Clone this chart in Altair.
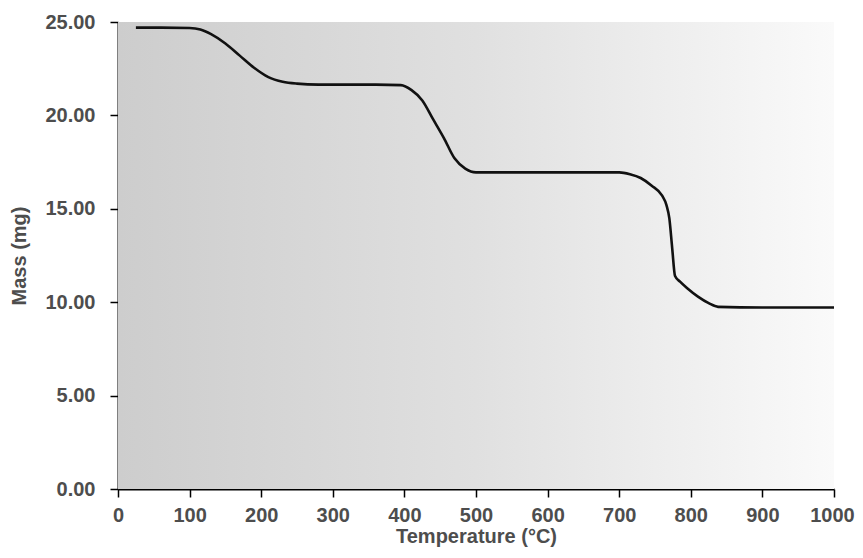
import altair as alt
import pandas as pd

temperature = [25, 60, 100, 115, 130, 150, 170, 190, 210, 230, 250, 280, 320, 360, 395,
               410, 425, 440, 455, 470, 485, 500, 550, 600, 650, 700, 715, 730, 745, 760,
               766, 770, 774, 778, 785, 795, 810, 825, 838, 900, 1000]
mass = [24.70, 24.70, 24.68, 24.60, 24.35, 23.85, 23.20, 22.55, 22.05, 21.80, 21.70, 21.65,
        21.65, 21.65, 21.62, 21.35, 20.80, 19.80, 18.80, 17.70, 17.15, 16.95, 16.95, 16.95,
        16.95, 16.95, 16.85, 16.65, 16.25, 15.70, 15.20, 14.50, 12.90, 11.40, 11.10, 10.75,
        10.30, 9.95, 9.75, 9.72, 9.72]
x_ticks = [0, 100, 200, 300, 400, 500, 600, 700, 800, 900, 1000]
y_ticks = [0, 5, 10, 15, 20, 25]

df = pd.DataFrame({"Temperature": temperature, "Mass": mass})

axis_common = dict(
    domainColor="black", domainWidth=2, tickColor="black", tickWidth=1.5, tickSize=8,
    labelColor="#4d4d4d", labelFont="Liberation Sans", labelFontWeight="bold",
    labelFontSize=20, labelFlush=False, titleColor="#4d4d4d", titleFont="Liberation Sans",
    titleFontWeight="bold", titleFontSize=20, grid=False,
)

x_enc = alt.X("Temperature:Q", title="Temperature (°C)",
              scale=alt.Scale(domain=[0, 1000], nice=False),
              axis=alt.Axis(values=x_ticks, format="d", labelPadding=8, titlePadding=1,
                            labelOffset={"expr": "datum.value == 1000 ? -2 : 0"},
                            **axis_common))
y_enc = alt.Y("Mass:Q", title="Mass (mg)",
              scale=alt.Scale(domain=[0, 25], nice=False),
              axis=alt.Axis(values=y_ticks, format=".2f", labelPadding=15, titlePadding=15,
                            **axis_common))

bg_data = pd.DataFrame({"Temperature": [0], "T2": [1000], "Mass": [0], "M2": [25]})
background = alt.Chart(bg_data).mark_rect(
    color=alt.Gradient(
        gradient="linear", x1=0, x2=1, y1=0, y2=0,
        stops=[alt.GradientStop(color="#cdcdcd", offset=0),
               alt.GradientStop(color="#e0e0e0", offset=0.5),
               alt.GradientStop(color="#fafafa", offset=1)],
    )
).encode(x=x_enc, x2="T2:Q", y=y_enc, y2="M2:Q")

line = alt.Chart(df).mark_line(color="#111111", strokeWidth=2.6, interpolate="monotone").encode(
    x=x_enc, y=y_enc,
)

chart = alt.layer(background, line).properties(
    width=716, height=467,
    autosize=alt.AutoSizeParams(type="none"),
    padding={"left": 110, "top": 14, "right": 21, "bottom": 60},
).configure_view(strokeWidth=0)

chart.save("out.html", embed_options={"renderer": "svg", "actions": False})
